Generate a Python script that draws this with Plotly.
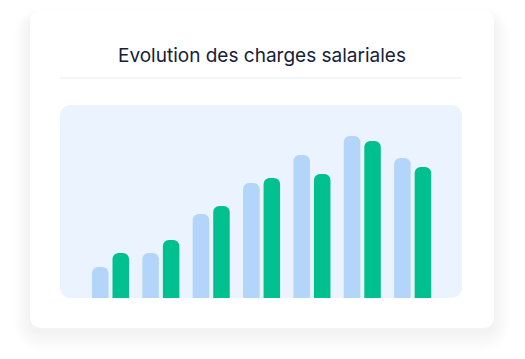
import plotly.graph_objects as go

W, H = 525, 359

months = ["Jan", "Fév", "Mar", "Avr", "Mai", "Juin", "Juil"]
series_prev = [31, 45, 84, 115, 143, 162, 140]
series_curr = [45, 58, 92, 120, 124, 157, 131]

title_text = "Evolution des charges salariales"

def px(x):
    return x / W

def py(y):
    return 1 - y / H

def rrect(x0, y0, x1, y1, r):
    pts = [
        f"M {px(x0 + r)} {py(y0)}",
        f"L {px(x1 - r)} {py(y0)}",
        f"Q {px(x1)} {py(y0)} {px(x1)} {py(y0 + r)}",
        f"L {px(x1)} {py(y1 - r)}",
        f"Q {px(x1)} {py(y1)} {px(x1 - r)} {py(y1)}",
        f"L {px(x0 + r)} {py(y1)}",
        f"Q {px(x0)} {py(y1)} {px(x0)} {py(y1 - r)}",
        f"L {px(x0)} {py(y0 + r)}",
        f"Q {px(x0)} {py(y0)} {px(x0 + r)} {py(y0)}",
        "Z",
    ]
    return " ".join(pts)

shapes = []
# soft shadow
for i in range(12, 0, -1):
    e = i * 1.7
    shapes.append(dict(
        type="path", xref="paper", yref="paper", layer="below",
        path=rrect(30 - e * 0.8, 10 - e * 0.5 + 8, 494 + e * 0.8, 328 + e + 4, 12 + e),
        fillcolor="rgba(40,40,50,0.0045)", line=dict(width=0),
    ))
# card
shapes.append(dict(
    type="path", xref="paper", yref="paper", layer="below",
    path=rrect(30, 10, 494, 328, 12),
    fillcolor="#ffffff", line=dict(width=0),
))
# divider
shapes.append(dict(
    type="line", xref="paper", yref="paper", layer="below",
    x0=px(60), x1=px(462), y0=py(78), y1=py(78),
    line=dict(color="#e7eef8", width=1),
))
# panel
shapes.append(dict(
    type="path", xref="paper", yref="paper", layer="below",
    path=rrect(60, 105, 462, 298, 12),
    fillcolor="#ebf3fe", line=dict(width=0),
))

fig = go.Figure()
fig.add_trace(go.Bar(x=months, y=series_prev, marker=dict(color="#b3d5f9", line=dict(width=0)),
                     hoverinfo="skip", showlegend=False))
fig.add_trace(go.Bar(x=months, y=series_curr, marker=dict(color="#00c08f", line=dict(width=0)),
                     hoverinfo="skip", showlegend=False))

fig.update_layout(
    width=W, height=H,
    margin=dict(l=0, r=0, t=0, b=0),
    paper_bgcolor="#ffffff",
    plot_bgcolor="rgba(0,0,0,0)",
    barmode="group",
    bargap=0.185,
    bargroupgap=0.195,
    barcornerradius=6,
    shapes=shapes,
    xaxis=dict(domain=[px(60), px(462)], range=[-1.003, 6.98], showticklabels=False,
               showgrid=False, zeroline=False, showline=False, ticks="", fixedrange=True),
    yaxis=dict(domain=[py(298), py(105)], range=[0, 193], showticklabels=False,
               showgrid=False, zeroline=False, showline=False, ticks="", fixedrange=True),
    annotations=[dict(
        text=title_text, xref="paper", yref="paper", x=px(261.5), y=py(55),
        xanchor="center", yanchor="middle", showarrow=False,
        font=dict(family="Inter, Roboto, sans-serif", size=19, color="#15203a"),
    )],
)

fig.write_html("out.html", config={"displayModeBar": False, "staticPlot": True})
